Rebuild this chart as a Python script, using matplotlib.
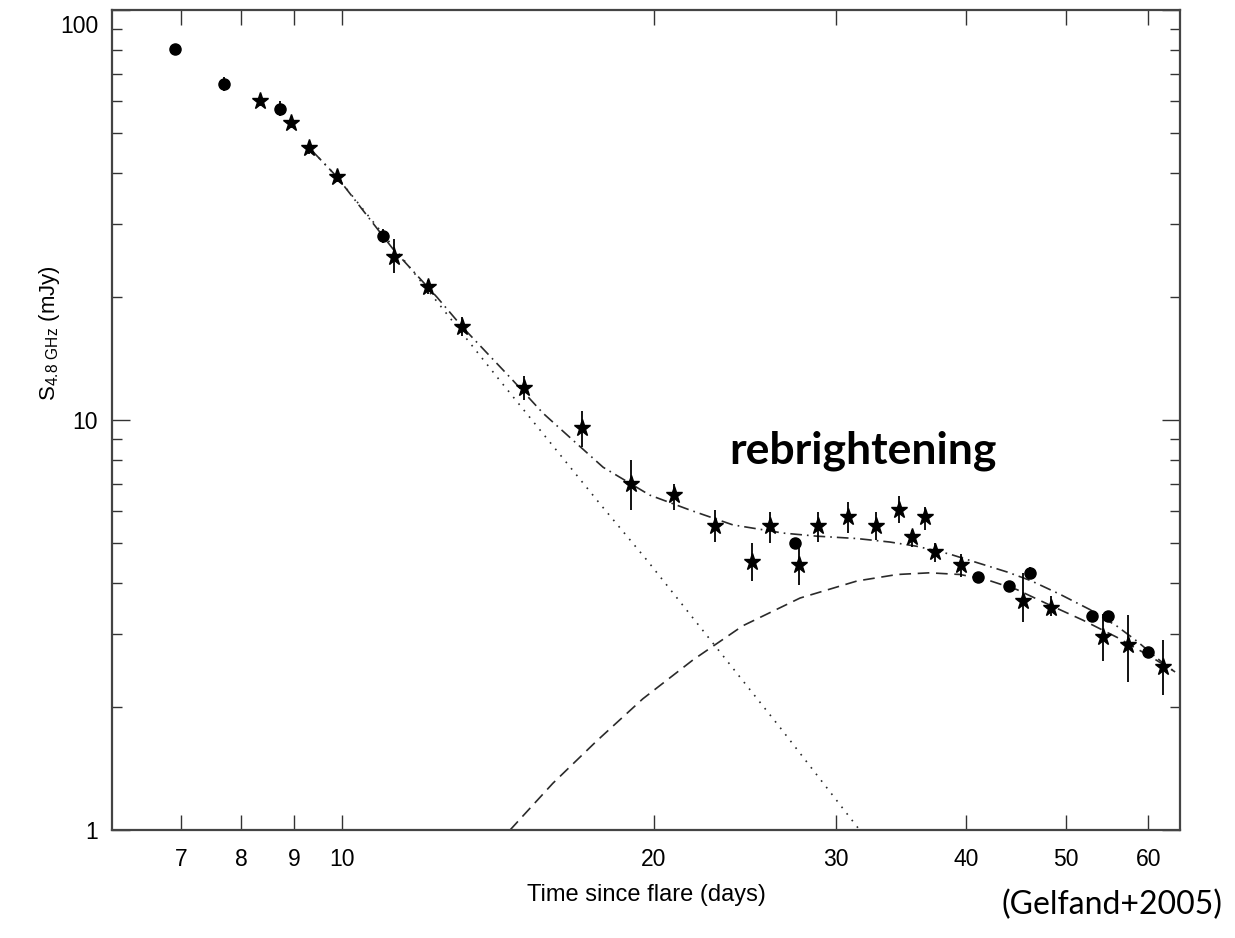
import numpy as np
import matplotlib.pyplot as plt
import matplotlib.transforms as mtransforms

# radio light curve values (days, mJy)
circ_t = [6.9, 7.7, 8.71, 10.95, 27.4, 41.1, 44.0, 46.1, 53.0, 54.9, 60.0]
circ_f = [80.3, 66.0, 57.4, 28.1, 5.01, 4.14, 3.94, 4.24, 3.32, 3.32, 2.72]
circ_lo = [80.3, 63.5, 55.0, 27.0, 4.85, 4.02, 3.82, 4.10, 3.22, 3.22, 2.64]
circ_hi = [80.3, 68.5, 60.0, 29.2, 5.15, 4.26, 4.06, 4.38, 3.42, 3.42, 2.80]

star_t = [8.34, 8.93, 9.29, 9.89, 11.22, 12.1, 13.06, 15.0, 17.05, 19.0, 20.9,
          22.9, 24.9, 25.9, 27.6, 28.8, 30.8, 32.8, 34.5, 35.5, 36.5, 37.4,
          39.6, 45.4, 48.3, 54.3, 57.4, 62.0]
star_f = [60.0, 53.0, 46.0, 39.2, 25.0, 21.1, 16.9, 12.0, 9.55, 7.0, 6.56,
          5.5, 4.51, 5.5, 4.43, 5.53, 5.8, 5.53, 6.03, 5.19, 5.8, 4.77,
          4.43, 3.62, 3.48, 2.96, 2.83, 2.5]
star_lo = [58.5, 51.5, 44.5, 38.0, 22.9, 20.3, 16.0, 11.2, 8.6, 6.05, 6.05,
           5.04, 4.04, 5.01, 3.96, 5.04, 5.3, 5.1, 5.6, 4.9, 5.4, 4.5,
           4.15, 3.22, 3.33, 2.58, 2.3, 2.14]
star_hi = [61.5, 54.5, 47.5, 40.5, 27.7, 22.0, 17.8, 12.8, 10.5, 8.0, 7.0,
           6.05, 5.0, 5.98, 4.9, 5.96, 6.3, 5.98, 6.53, 5.4, 6.15, 5.0,
           4.7, 4.24, 3.72, 3.37, 3.34, 2.9]

# model curves
decay_t = [9.38, 9.89, 11.37, 14.2, 17.75, 19.7, 22.8, 26.47, 31.6]
decay_f = [45.1, 39.2, 25.3, 12.5, 6.24, 4.55, 2.86, 1.78, 1.0]

rebright_t = [14.53, 15.98, 17.62, 19.52, 21.82, 24.38, 27.68, 31.42, 34.34,
              36.9, 39.5, 41.9, 44.8, 48.3, 51.9, 56.0, 60.6, 63.7]
rebright_f = [1.0, 1.30, 1.65, 2.09, 2.60, 3.15, 3.68, 4.05, 4.20,
              4.24, 4.20, 4.08, 3.86, 3.53, 3.25, 2.95, 2.63, 2.43]

total_t = [9.38, 9.89, 11.22, 12.35, 13.06, 14.62, 15.63, 16.71, 17.87, 19.82,
           21.68, 23.84, 26.66, 28.7, 31.4, 33.8, 35.9, 38.6, 43.85, 46.2,
           49.3, 52.7, 56.0, 58.5, 61.6, 63.7]
total_f = [45.1, 39.2, 26.0, 19.95, 16.9, 12.5, 10.4, 8.93, 7.67, 6.56,
           6.03, 5.55, 5.30, 5.21, 5.14, 5.04, 4.92, 4.71, 4.26, 4.06,
           3.76, 3.45, 3.14, 2.89, 2.59, 2.43]

xticks = [7, 8, 9, 10, 20, 30, 40, 50, 60]

plt.rcParams['font.family'] = ['Liberation Sans', 'DejaVu Sans']
plt.rcParams['mathtext.default'] = 'regular'

fig = plt.figure(figsize=(12.35, 9.38), dpi=100)
ax = fig.add_axes([0.0907, 0.1151, 0.8648, 0.8742])

lc = '#2a2a2a'
ax.plot(decay_t, decay_f, color=lc, lw=1.2, ls=(0, (1, 4)))
ax.plot(rebright_t, rebright_f, color=lc, lw=1.2, ls=(0, (7, 4)))
ax.plot(total_t, total_f, color=lc, lw=1.2, ls=(0, (7, 3, 1, 3)))

circ_f_a = np.array(circ_f)
star_f_a = np.array(star_f)
ax.errorbar(circ_t, circ_f, yerr=[circ_f_a - circ_lo, np.array(circ_hi) - circ_f_a],
            fmt='o', color='black', ms=8, elinewidth=1.3, capsize=0)
ax.errorbar(star_t, star_f, yerr=[star_f_a - star_lo, np.array(star_hi) - star_f_a],
            fmt='*', color='black', ms=12.5, elinewidth=1.3, capsize=0)

ax.set_xscale('log')
ax.set_yscale('log')
ax.set_xlim(6.0, 64.4)
ax.set_ylim(1, 100)

ax.xaxis.set_major_locator(plt.FixedLocator(xticks))
ax.xaxis.set_minor_locator(plt.NullLocator())
ax.set_xticklabels([str(v) for v in xticks])
ax.set_yticks([1, 10, 100])
ax.set_yticklabels(['1', '10', '100'])
ax.yaxis.set_minor_locator(plt.LogLocator(base=10, subs=np.arange(2, 10)))
ax.yaxis.set_minor_formatter(plt.NullFormatter())

ax.tick_params(axis='x', which='major', direction='in', length=11, width=1,
               top=True, labelsize=16.5, pad=13, colors='#333333', labelcolor='black')
ax.tick_params(axis='y', which='major', direction='in', length=13, width=1,
               right=True, labelsize=16.5, pad=10, colors='#333333', labelcolor='black')
ax.tick_params(axis='y', which='minor', direction='in', length=7, width=1,
               right=True, colors='#333333')
for s in ax.spines.values():
    s.set_linewidth(1.6)
    s.set_color('#444444')

# the "100" label sits a little below the top edge in the original
top_lab = ax.get_yticklabels()[2]
top_lab.set_transform(top_lab.get_transform()
                      + mtransforms.ScaledTranslation(0, -0.14, fig.dpi_scale_trans))

ax.set_xlabel('Time since flare (days)', fontsize=17, labelpad=9)
ax.set_ylabel(r'$S_{4.8\ GHz}$ (mJy)', fontsize=16)
ax.yaxis.set_label_coords(-0.047, 0.606)

ax.text(0.703, 0.463, 'rebrightening', transform=ax.transAxes, ha='center',
        va='center', fontsize=32, fontweight='bold', family=['Lato', 'DejaVu Sans'])
fig.text(0.9895, 0.035, '(Gelfand+2005)', ha='right', va='center', fontsize=23,
         family=['Lato', 'DejaVu Sans'])

fig.savefig('out.png', dpi=100)
